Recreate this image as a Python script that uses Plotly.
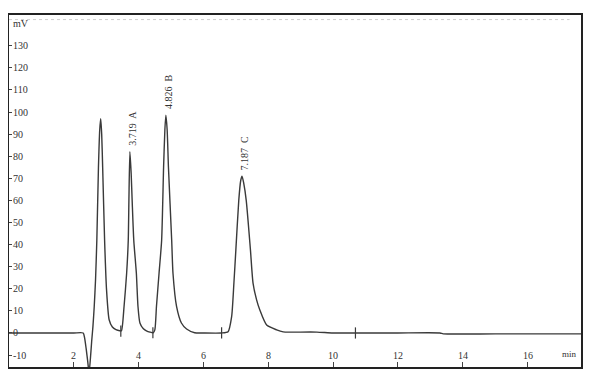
import plotly.graph_objects as go

# Chromatogram signal (time in min, signal in mV)
time_min = [0.0, 1.0, 2.0, 2.29, 2.33, 2.38, 2.43, 2.47, 2.51, 2.55, 2.59, 2.63, 2.67, 2.71,
            2.76, 2.80, 2.83, 2.86, 2.89, 2.95, 3.01, 3.09, 3.19, 3.30, 3.42,
            3.47, 3.55, 3.63, 3.68, 3.70, 3.73, 3.77, 3.80, 3.85, 3.93, 3.98, 4.04, 4.14, 4.24, 4.35, 4.45,
            4.50, 4.55, 4.63, 4.71, 4.77, 4.81, 4.84, 4.88, 4.92, 5.02, 5.06, 5.17, 5.32, 5.48, 5.73,
            6.0, 6.56, 6.76, 6.87, 6.94, 7.00, 7.09, 7.15, 7.19, 7.24, 7.32, 7.45, 7.53, 7.64, 7.74,
            7.95, 8.26, 8.46, 8.70, 9.50, 10.0, 11.0, 12.0, 13.3, 13.4, 15.0, 17.65]
signal_mv = [0.0, 0.0, 0.0, 0.0, -2.0, -7.0, -13.0, -18.0, -12.0, -4.0, 3.0, 12.0, 24.0, 42.0,
             75.0, 92.0, 97.0, 90.0, 75.0, 42.0, 19.5, 6.0, 2.7, 1.5, 1.0,
             1.0, 12.0, 27.0, 42.0, 60.0, 82.0, 72.0, 60.0, 42.0, 27.0, 12.0, 4.5, 2.0, 1.0, 0.4, 0.1,
             1.4, 12.0, 27.0, 42.0, 75.0, 92.0, 98.6, 92.0, 75.0, 42.0, 27.0, 12.0, 4.5, 1.8, 0.1,
             0.0, 0.0, 0.6, 7.4, 22.6, 37.6, 60.0, 69.0, 71.0, 68.0, 60.0, 37.6, 22.6, 15.0, 10.4,
             3.6, 1.4, 0.5, 0.4, 0.4, 0.0, 0.0, 0.0, 0.0, -0.4, -0.4, -0.4]

# Integration event markers on the baseline
event_times = [3.45, 4.44, 6.56, 10.69]
event_levels = [0.8, 0.1, 0.0, 0.0]

# Peak labels
peak_times = [3.719, 4.826, 7.187]
peak_heights = [82.0, 98.6, 71.0]
peak_labels = ["3.719  A", "4.826  B", "7.187  C"]

# Axis ticks
x_ticks = [2, 4, 6, 8, 10, 12, 14, 16]
x_tick_labels = ["2", "4", "6", "8", "10", "12", "14", "16"]
x_label_level = -10
y_ticks = [-10, 0, 10, 20, 30, 40, 50, 60, 70, 80, 90, 100, 110, 120, 130]
y_tick_labels = ["-10", "0", "10", "20", "30", "40", "50", "60", "70", "80", "90",
                 "100", "110", "120", "130"]

font_family = "Liberation Serif, Times New Roman, serif"
text_color = "#333333"
line_color = "#3a3a3a"

fig = go.Figure()
fig.add_trace(go.Scatter(x=time_min, y=signal_mv, mode="lines",
                         line=dict(color=line_color, width=1.4, shape="spline", smoothing=0.6),
                         hoverinfo="skip", showlegend=False))
fig.add_trace(go.Scatter(x=event_times, y=event_levels, mode="markers",
                         marker=dict(symbol="line-ns-open", size=8, color=line_color,
                                     line=dict(color=line_color, width=1.2)),
                         hoverinfo="skip", showlegend=False))

for t, h, lab in zip(peak_times, peak_heights, peak_labels):
    fig.add_annotation(x=t, y=h, text=lab, textangle=-90, showarrow=False,
                       xanchor="center", yanchor="bottom", yshift=4, xshift=3,
                       font=dict(family=font_family, size=10, color=text_color))

# x tick labels drawn inside the frame, at the level of the -10 label
for t, lab in zip(x_ticks, x_tick_labels):
    fig.add_annotation(x=t, y=x_label_level, text=lab, showarrow=False,
                       xanchor="center", yanchor="middle",
                       font=dict(family=font_family, size=10, color=text_color))

fig.add_annotation(x=0, y=140, xref="x", yref="y", text="mV", showarrow=False,
                   xanchor="left", yanchor="middle", xshift=2,
                   font=dict(family=font_family, size=10, color=text_color))
fig.add_annotation(x=17.6, y=-10, xref="x", yref="y", text="min", showarrow=False,
                   xanchor="right", yanchor="middle", yshift=1,
                   font=dict(family=font_family, size=9, color=text_color))

# faint dotted line near the top of the frame
fig.add_shape(type="line", xref="paper", yref="paper", x0=0.0, x1=0.98, y0=0.987, y1=0.987,
              line=dict(color="#cfcfcf", width=1, dash="dot"))

fig.update_xaxes(range=[0, 17.65], tickvals=x_ticks, showticklabels=False,
                 ticks="inside", ticklen=5, tickcolor="#444", tickwidth=1,
                 showgrid=False, zeroline=False,
                 showline=True, linecolor="#222", linewidth=2, mirror=True)
fig.update_yaxes(range=[-15.4, 143.9], tickvals=y_ticks, ticktext=y_tick_labels,
                 ticks="inside", ticklen=3, tickcolor="#444", tickwidth=1,
                 ticklabelposition="inside", showgrid=False, zeroline=False,
                 showline=True, linecolor="#222", linewidth=2, mirror=True,
                 tickfont=dict(family=font_family, size=10, color=text_color))

# page body adds an 8px offset; compensate so the frame lands at (9,15)-(581,367)
fig.update_layout(width=592, height=372, margin=dict(l=1, r=19, t=7, b=13),
                  paper_bgcolor="white", plot_bgcolor="white")

fig.write_html("out.html")
